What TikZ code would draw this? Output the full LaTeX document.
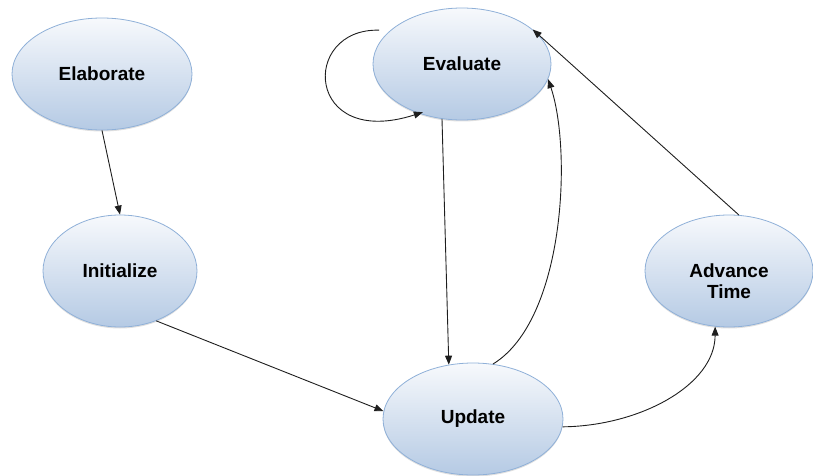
\documentclass[tikz,border=0pt]{standalone}
\usepackage{fontspec}
\setmainfont{Liberation Sans}
\usetikzlibrary{shapes.geometric,arrows.meta,shadows}

\definecolor{rimblue}{HTML}{8FB0D8}
\definecolor{topblue}{HTML}{F7F9FC}
\definecolor{lowblue}{HTML}{B5CAE4}
\definecolor{linkgray}{HTML}{1E1E1E}

\begin{document}
\begin{tikzpicture}[x=1pt,y=-1pt,
  phase/.style={ellipse,draw=rimblue,line width=0.8pt,top color=topblue,bottom color=lowblue,
    inner sep=0pt,align=center,font=\fontsize{19}{21}\selectfont\bfseries,
    drop shadow={shadow xshift=0pt,shadow yshift=-1.5pt,opacity=0.25}},
  link/.style={draw=linkgray,line width=0.9pt,-{Triangle[length=9pt,width=7pt]}}]
\useasboundingbox (0,0) rectangle (813,476);

\node[phase,minimum width=180pt,minimum height=112pt] (elab) at (102,74) {Elaborate};
\node[phase,minimum width=154pt,minimum height=112pt] (init) at (120,271) {Initialize};
\node[phase,minimum width=178pt,minimum height=112pt] (eval) at (462,64) {Evaluate};
\node[phase,minimum width=180pt,minimum height=112pt] (upd) at (473,419) {Update};
\node[phase,minimum width=168pt,minimum height=112pt] (adv) at (729,271) {\vphantom{A}\\Advance\\Time};

\draw[link] (elab.south) -- (init.north);
\draw[link] (init.-54) -- (upd.175);
\draw[link] (eval.-110) -- (upd.114);
\draw[link] (upd.70) .. controls (565,320) and (572,150) .. (eval.-10);
\draw[link] (upd.-5) .. controls (640,426) and (715,385) .. (adv.-104);
\draw[link] (adv.80) -- (eval.26);
\draw[link,shorten <=11pt,shorten >=-4pt] (eval.155) .. controls (300,28) and (305,150) .. (eval.-131);
\end{tikzpicture}
\end{document}
